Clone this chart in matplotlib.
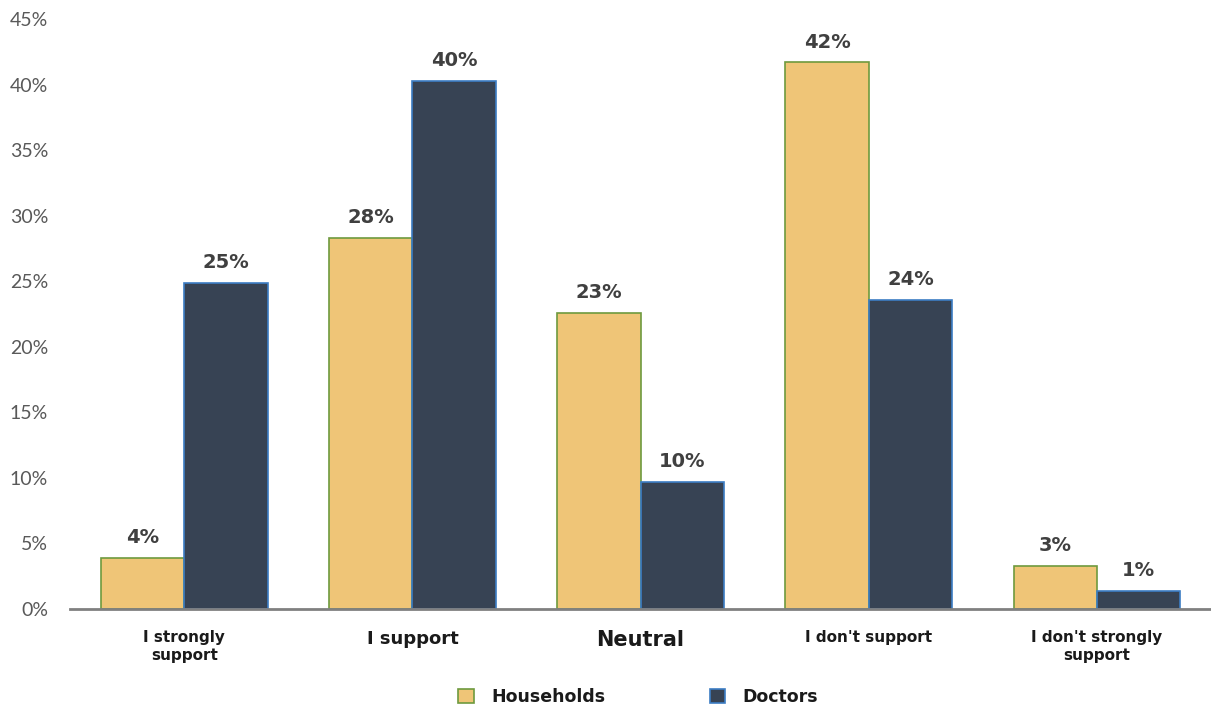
import matplotlib
matplotlib.use("Agg")
import matplotlib.pyplot as plt
import numpy as np
from matplotlib.ticker import FuncFormatter, MultipleLocator

categories = ["I strongly\nsupport", "I support", "Neutral", "I don't support",
              "I don't strongly\nsupport"]
households = [3.9, 28.3, 22.6, 41.7, 3.3]
doctors = [24.9, 40.3, 9.7, 23.6, 1.4]
series_names = ["Households", "Doctors"]

cat_font_sizes = [11, 13, 15, 11, 11]

fill_colors = ["#EFC577", "#374354"]
edge_colors = ["#6E9A3E", "#3C7DC4"]

fig = plt.figure(figsize=(12.11, 7.04), dpi=100)
ax = fig.add_axes([0.058, 0.135, 0.942, 0.838])

x = np.arange(len(categories))
width = 0.365
for i, (vals, name) in enumerate(zip([households, doctors], series_names)):
    offset = (i - 0.5) * width
    bars = ax.bar(x + offset, vals, width, color=fill_colors[i],
                  edgecolor=edge_colors[i], linewidth=1.2, label=name, zorder=2)
    for b, v in zip(bars, vals):
        ax.text(b.get_x() + b.get_width() / 2, v + 0.8, f"{v:.0f}%",
                ha="center", va="bottom", fontsize=14, fontweight="bold",
                color="#404040")

ax.set_xlim(-0.5, 4.5)
ax.set_ylim(0, 45)
ax.yaxis.set_major_locator(MultipleLocator(5))
ax.yaxis.set_major_formatter(FuncFormatter(lambda v, p: f"{v:.0f}%"))
ax.tick_params(axis="y", length=0, labelsize=14, labelcolor="#595959", pad=16)
ax.tick_params(axis="x", length=0, pad=15)
ax.set_xticks(x)
ax.set_xticklabels(categories)
for lbl, fs in zip(ax.get_xticklabels(), cat_font_sizes):
    lbl.set_fontsize(fs)
    lbl.set_fontweight("bold")
    lbl.set_color("#1a1a1a")
    lbl.set_linespacing(1.3)
for lbl in ax.get_yticklabels():
    lbl.set_family(["Lato", "DejaVu Sans"])
    lbl.set_fontweight("normal")

for s in ["top", "right", "left"]:
    ax.spines[s].set_visible(False)
ax.spines["bottom"].set_color("#808080")
ax.spines["bottom"].set_linewidth(2)
ax.spines["bottom"].set_zorder(3)

leg = fig.legend(loc="center", bbox_to_anchor=(0.527, 0.01), ncol=2,
                 frameon=False, fontsize=12.5, handlelength=0.9, handleheight=0.9,
                 columnspacing=6.0, handletextpad=1.0)
for t in leg.get_texts():
    t.set_fontweight("bold")
    t.set_color("#1a1a1a")

fig.savefig("out.png", dpi=100)
